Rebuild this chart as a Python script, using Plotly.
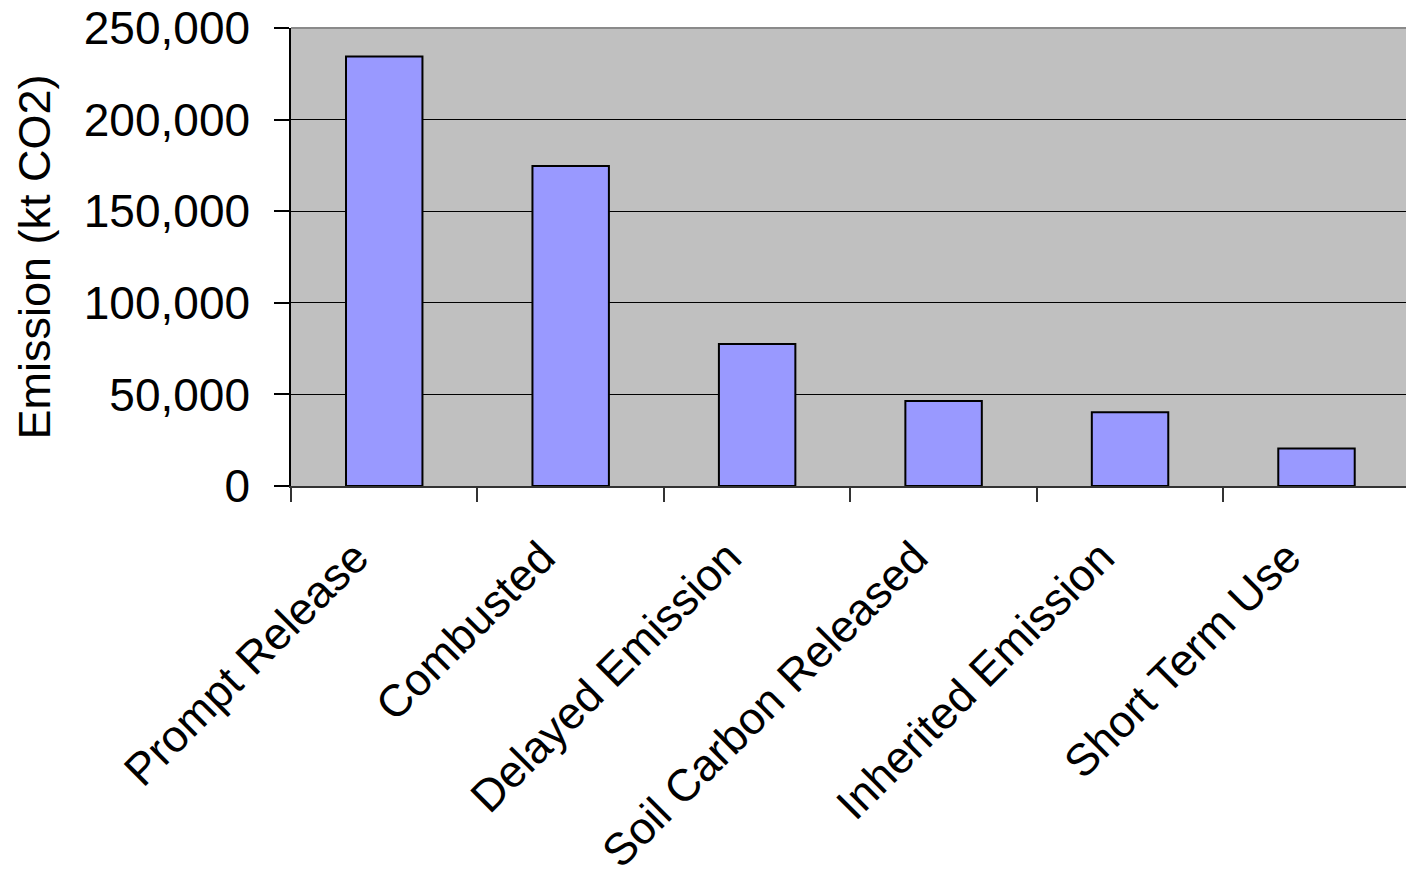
import plotly.graph_objects as go

categories = ["Prompt Release", "Combusted", "Delayed Emission",
              "Soil Carbon Released", "Inherited Emission", "Short Term Use"]
emissions = [234500, 174700, 77500, 46400, 40300, 20500]
y_ticks = [0, 50000, 100000, 150000, 200000, 250000]
y_tick_text = ["0", "50,000", "100,000", "150,000", "200,000", "250,000"]

FONT = "Liberation Sans, Arial, sans-serif"

fig = go.Figure()
fig.add_trace(go.Bar(
    x=categories, y=emissions,
    marker=dict(color="#9999FF", line=dict(color="#000000", width=2)),
))

fig.update_layout(
    width=1406, height=876,
    margin=dict(l=291, r=0, t=28, b=390),
    paper_bgcolor="white", plot_bgcolor="#C0C0C0",
    bargap=0.59, showlegend=False,
    font=dict(family=FONT, size=46, color="black"),
    xaxis=dict(
        range=[-0.5, 5.48], tickangle=-45, tickson="boundaries",
        ticks="outside", ticklen=14, tickwidth=1.5, tickcolor="#333333",
        showline=True, linecolor="#333333", linewidth=2,
        showgrid=False, tickfont=dict(size=45), automargin=False,
        ticklabelstandoff=25, ticklabelshift=-29,
    ),
    yaxis=dict(
        range=[0, 250000], tickvals=y_ticks, ticktext=y_tick_text,
        ticks="outside", ticklen=15, tickwidth=1.5, tickcolor="#000000",
        showline=True, linecolor="#000000", linewidth=1.5,
        showgrid=True, gridcolor="#000000", gridwidth=1, automargin=False,
        zeroline=False, tickfont=dict(size=46), ticklabelstandoff=15,
        title=dict(text="Emission (kt CO2)", font=dict(size=45), standoff=19),
    ),
    shapes=[dict(type="line", xref="paper", yref="paper", x0=0, x1=1, y0=1, y1=1,
                 line=dict(color="#8A8A8A", width=2), layer="above")],
)

fig.write_html("out.html")
